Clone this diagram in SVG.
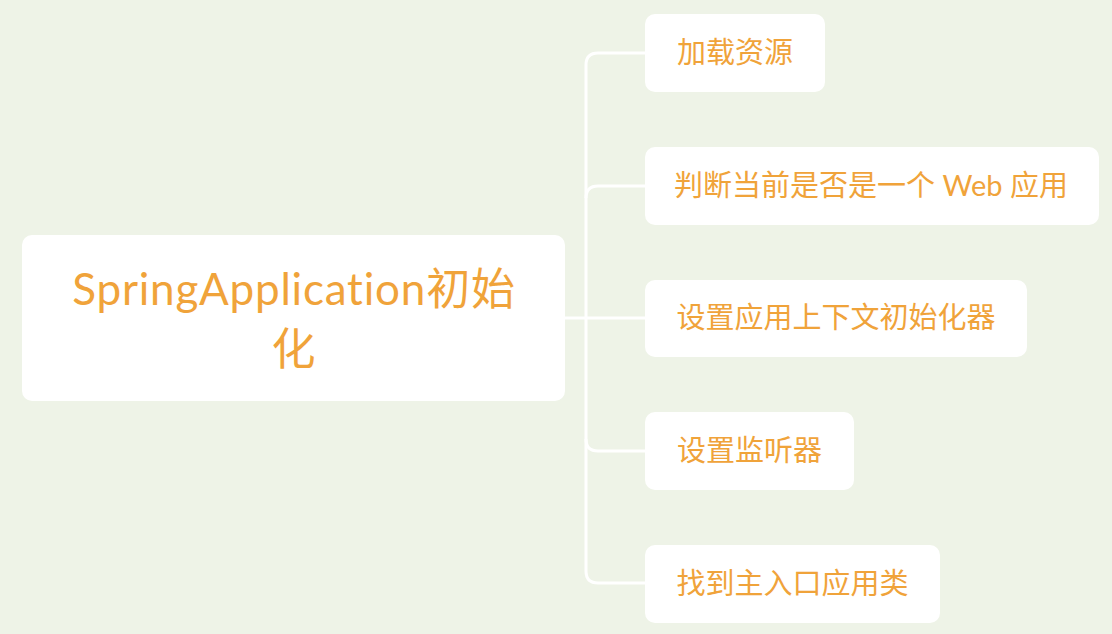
<svg xmlns="http://www.w3.org/2000/svg" width="1112" height="634" viewBox="0 0 1112 634">
<style>
.box{fill:#ffffff;}
.t{fill:#F0A33A;font-family:Lato,"Noto Sans CJK SC",sans-serif;text-anchor:middle;}
.c{font-size:29px;}
.r{font-size:44px;letter-spacing:0.8px;}
.ln{fill:none;stroke:#ffffff;stroke-width:3;}
</style>
<rect width="1112" height="634" fill="#EEF3E7"/>
<g id="connectors">
<path class="ln" d="M565 318 H586"/>
<path class="ln" d="M645 53 H598 Q586 53 586 65 V571 Q586 583 598 583 H645"/>
<path class="ln" d="M645 186 H598 Q586 186 586 198"/>
<path class="ln" d="M586 318 H645"/>
<path class="ln" d="M645 451 H598 Q586 451 586 439"/>
</g>
<g id="root">
<rect class="box" x="22" y="235" width="543" height="166" rx="10"/>
<text class="t r" x="294" y="305">SpringApplication初始</text>
<text class="t r" x="294" y="365">化</text>
</g>
<g id="n1">
<rect class="box" x="645" y="14" width="180" height="78" rx="10"/>
<text class="t c" x="735" y="63">加载资源</text>
</g>
<g id="n2">
<rect class="box" x="645" y="147" width="454" height="78" rx="10"/>
<text class="t c" x="871" y="196">判断当前是否是一个 Web 应用</text>
</g>
<g id="n3">
<rect class="box" x="645" y="280" width="382" height="77" rx="10"/>
<text class="t c" x="836" y="328">设置应用上下文初始化器</text>
</g>
<g id="n4">
<rect class="box" x="645" y="412" width="209" height="78" rx="10"/>
<text class="t c" x="749.5" y="461">设置监听器</text>
</g>
<g id="n5">
<rect class="box" x="645" y="545" width="295" height="78" rx="10"/>
<text class="t c" x="792.5" y="594">找到主入口应用类</text>
</g>
</svg>
